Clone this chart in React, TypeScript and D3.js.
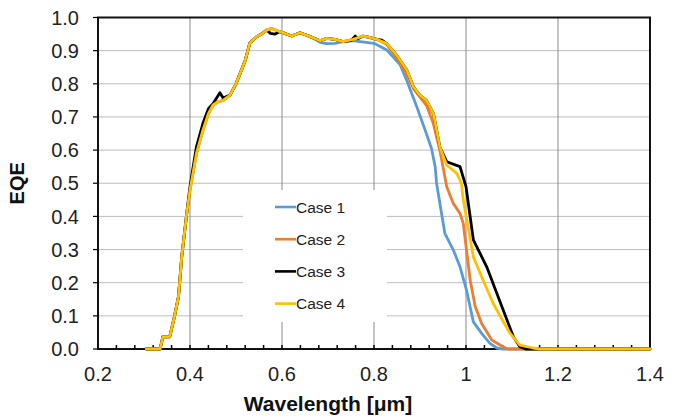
import React from 'react';
import * as d3 from 'd3';

const xTicks = [0.2, 0.4, 0.6, 0.8, 1.0, 1.2, 1.4];
const xTickLabels = ['0.2', '0.4', '0.6', '0.8', '1', '1.2', '1.4'];
const yTicks = [0, 0.1, 0.2, 0.3, 0.4, 0.5, 0.6, 0.7, 0.8, 0.9, 1.0];
const yTickLabels = ['0.0', '0.1', '0.2', '0.3', '0.4', '0.5', '0.6', '0.7', '0.8', '0.9', '1.0'];
const seriesNames = ['Case 1', 'Case 2', 'Case 3', 'Case 4'];
const seriesColors = ['#5B9BD5', '#ED7D31', '#000000', '#FFC000'];

const case1: [number, number][] = [
  [0.305, 0], [0.335, 0], [0.341, 0.037], [0.356, 0.037], [0.366, 0.097], [0.375, 0.158], [0.382, 0.278],
  [0.393, 0.41], [0.4, 0.48], [0.414, 0.59], [0.428, 0.66], [0.44, 0.71], [0.45, 0.736], [0.46, 0.745],
  [0.472, 0.75], [0.487, 0.766], [0.5, 0.8], [0.512, 0.842], [0.52, 0.87], [0.53, 0.923], [0.545, 0.942],
  [0.555, 0.95], [0.567, 0.962], [0.578, 0.967], [0.59, 0.96], [0.6, 0.955], [0.621, 0.944], [0.639, 0.954],
  [0.66, 0.943], [0.683, 0.925], [0.697, 0.921], [0.715, 0.922], [0.733, 0.927], [0.754, 0.93], [0.77, 0.927],
  [0.8, 0.922], [0.828, 0.902], [0.857, 0.857], [0.871, 0.811], [0.893, 0.731], [0.911, 0.661], [0.925, 0.605],
  [0.933, 0.55], [0.936, 0.5], [0.954, 0.349], [0.972, 0.3], [0.987, 0.248], [1.001, 0.178], [1.016, 0.082],
  [1.034, 0.047], [1.052, 0.017], [1.067, 0.003], [1.08, 0], [1.4, 0],
];

const case2: [number, number][] = [
  [0.305, 0], [0.335, 0], [0.341, 0.037], [0.356, 0.037], [0.366, 0.097], [0.375, 0.158], [0.382, 0.278],
  [0.393, 0.41], [0.4, 0.48], [0.414, 0.59], [0.428, 0.66], [0.44, 0.71], [0.45, 0.736], [0.46, 0.745],
  [0.472, 0.75], [0.487, 0.766], [0.5, 0.8], [0.512, 0.842], [0.52, 0.87], [0.53, 0.923], [0.545, 0.942],
  [0.555, 0.95], [0.567, 0.962], [0.578, 0.967], [0.59, 0.96], [0.6, 0.955], [0.621, 0.944], [0.639, 0.954],
  [0.66, 0.943], [0.683, 0.93], [0.697, 0.937], [0.715, 0.934], [0.733, 0.927], [0.754, 0.934], [0.776, 0.944],
  [0.79, 0.94], [0.806, 0.934], [0.827, 0.92], [0.849, 0.88], [0.871, 0.83], [0.886, 0.785], [0.9, 0.76],
  [0.914, 0.735], [0.929, 0.68], [0.943, 0.6], [0.958, 0.49], [0.972, 0.44], [0.987, 0.409], [0.994, 0.379],
  [1.009, 0.208], [1.02, 0.128], [1.034, 0.077], [1.056, 0.027], [1.074, 0.012], [1.09, 0], [1.4, 0],
];

const case3: [number, number][] = [
  [0.305, 0], [0.335, 0], [0.341, 0.037], [0.356, 0.037], [0.366, 0.097], [0.375, 0.158], [0.382, 0.278],
  [0.393, 0.41], [0.4, 0.49], [0.414, 0.61], [0.428, 0.68], [0.44, 0.725], [0.45, 0.74], [0.465, 0.773],
  [0.472, 0.757], [0.487, 0.766], [0.5, 0.8], [0.512, 0.842], [0.52, 0.87], [0.53, 0.923], [0.545, 0.942],
  [0.555, 0.95], [0.567, 0.962], [0.575, 0.952], [0.585, 0.95], [0.595, 0.957], [0.6, 0.955], [0.621, 0.944],
  [0.639, 0.954], [0.66, 0.943], [0.683, 0.93], [0.697, 0.937], [0.715, 0.934], [0.733, 0.927], [0.75, 0.93],
  [0.759, 0.944], [0.765, 0.936], [0.776, 0.944], [0.79, 0.94], [0.806, 0.934], [0.817, 0.932], [0.827, 0.922],
  [0.849, 0.887], [0.871, 0.842], [0.886, 0.79], [0.9, 0.765], [0.914, 0.75], [0.929, 0.711], [0.943, 0.61],
  [0.958, 0.565], [0.987, 0.55], [1.0, 0.49], [1.016, 0.329], [1.045, 0.248], [1.103, 0.037], [1.117, 0.007],
  [1.13, 0], [1.4, 0],
];

const case4: [number, number][] = [
  [0.305, 0], [0.335, 0], [0.341, 0.037], [0.356, 0.037], [0.366, 0.097], [0.375, 0.158], [0.382, 0.278],
  [0.393, 0.41], [0.4, 0.48], [0.414, 0.59], [0.428, 0.66], [0.44, 0.71], [0.45, 0.736], [0.46, 0.745],
  [0.472, 0.75], [0.487, 0.766], [0.5, 0.8], [0.512, 0.842], [0.52, 0.87], [0.53, 0.923], [0.545, 0.942],
  [0.555, 0.95], [0.567, 0.962], [0.578, 0.967], [0.59, 0.96], [0.6, 0.955], [0.621, 0.944], [0.639, 0.954],
  [0.66, 0.943], [0.683, 0.93], [0.697, 0.937], [0.715, 0.934], [0.733, 0.927], [0.754, 0.934], [0.776, 0.944],
  [0.79, 0.94], [0.806, 0.934], [0.827, 0.922], [0.849, 0.887], [0.871, 0.842], [0.886, 0.79], [0.9, 0.765],
  [0.914, 0.75], [0.929, 0.711], [0.943, 0.61], [0.958, 0.555], [0.98, 0.53], [0.99, 0.5], [0.994, 0.45],
  [1.016, 0.278], [1.038, 0.205], [1.059, 0.138], [1.08, 0.085], [1.096, 0.047], [1.117, 0.012], [1.146, 0.003],
  [1.16, 0], [1.4, 0],
];

const allSeries = [case1, case2, case3, case4];

const W = 690;
const H = 418;
const PL = 98, PR = 650, PT = 17.5, PB = 349;
const FONT = 'Liberation Sans, Arial, sans-serif';

export default function App() {
  const x = d3.scaleLinear().domain([0.2, 1.4]).range([PL, PR]);
  const y = d3.scaleLinear().domain([0, 1]).range([PB, PT]);
  const line = d3.line<[number, number]>().x(d => x(d[0])).y(d => y(d[1]));
  const minor = d3.range(0, 31).map(i => 0.2 + i * 0.04);

  const legX = 243, legY = 190, legW = 144, legH = 132;
  const legRow = (i: number) => 207 + i * 32.2;

  return (
    <svg width={W} height={H} style={{ position: 'absolute', left: 0, top: 0, background: '#fff' }} fontFamily={FONT}>
      <rect x={0} y={0} width={W} height={H} fill="#fff" />
      {yTicks.filter(t => t > 0 && t < 1).map(t => (
        <line key={'hg' + t} x1={PL} x2={PR} y1={y(t)} y2={y(t)} stroke="#bdbdbd" strokeWidth={1} />
      ))}
      {xTicks.filter(t => t > 0.2 && t < 1.4).map(t => (
        <line key={'vg' + t} x1={x(t)} x2={x(t)} y1={PT} y2={PB} stroke="#8c8c8c" strokeWidth={1} />
      ))}
      <rect x={legX} y={legY} width={legW} height={legH} fill="#fff" />
      {minor.map((t, i) => (
        <line key={'mt' + i} x1={x(t)} x2={x(t)} y1={PB - 4} y2={PB + 1} stroke="#000" strokeWidth={1.5} />
      ))}
      {yTicks.map(t => (
        <line key={'yt' + t} x1={PL - 5} x2={PL} y1={y(t)} y2={y(t)} stroke="#000" strokeWidth={1.2} />
      ))}
      <rect x={PL} y={PT} width={PR - PL} height={PB - PT} fill="none" stroke="#111" strokeWidth={2} />
      {allSeries.map((s, i) => (
        <path key={'s' + i} d={line(s) || ''} fill="none" stroke={seriesColors[i]} strokeWidth={2.8}
          strokeLinejoin="round" strokeLinecap="round" />
      ))}
      {yTicks.map((t, i) => (
        <text key={'yl' + t} x={79} y={y(t)} dy="0.36em" textAnchor="end" fontSize={20} fill="#222">{yTickLabels[i]}</text>
      ))}
      {xTicks.map((t, i) => (
        <text key={'xl' + t} x={x(t)} y={380.5} textAnchor="middle" fontSize={20} fill="#222">{xTickLabels[i]}</text>
      ))}
      <text x={328} y={411} textAnchor="middle" fontSize={21} fontWeight="bold" fill="#111">Wavelength [μm]</text>
      <text transform={`translate(24,${(PT + PB) / 2}) rotate(-90)`} textAnchor="middle" fontSize={20} fontWeight="bold" fill="#111">EQE</text>
      {seriesNames.map((n, i) => (
        <g key={'lg' + i}>
          <line x1={275} x2={296} y1={legRow(i)} y2={legRow(i)} stroke={seriesColors[i]} strokeWidth={2.6} />
          <text x={296} y={legRow(i)} dy="0.36em" fontSize={15.5} fill="#222">{n}</text>
        </g>
      ))}
    </svg>
  );
}
